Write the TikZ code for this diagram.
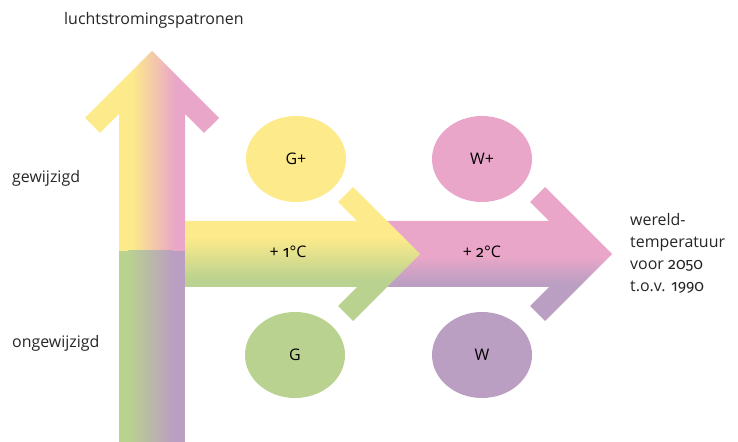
\documentclass[tikz,border=0pt]{standalone}
\usepackage{fontspec}
\setmainfont{Open Sans}
\newfontfamily\oudcijfer{Fira Sans}[Numbers=OldStyle]
\usetikzlibrary{shapes.geometric}
\definecolor{geel}{RGB}{253,234,139}
\definecolor{roze}{RGB}{234,166,200}
\definecolor{groen}{RGB}{185,210,143}
\definecolor{paars}{RGB}{186,159,194}
\begin{document}
\begin{tikzpicture}[x=1bp, y=-1bp,
    scenario/.style ={ellipse, minimum width=100bp, minimum height=86bp, inner sep=0pt, font=\fontsize{16}{20}\selectfont},
    label/.style ={anchor=base west, inner sep=0pt, text=black!85, font=\fontsize{16}{22}\selectfont}]
   \useasboundingbox (0,0) rectangle (738,442);
   % vertical arrow, upper part
   \begin{scope}
     \clip (119,251) -- (119,114) -- (100,133) -- (85,118) -- (152,51) -- (219,118)
       -- (204,133) -- (185,114) -- (185,251) -- cycle;
     \fill[geel] (80,45) rectangle (132,255);
     \shade[left color=geel, right color=roze] (132,45) rectangle (175,255);
     \fill[roze] (175,45) rectangle (225,255);
   \end{scope}
   % vertical arrow, lower part
   \fill[groen] (119,251) rectangle (128,442);
   \shade[left color=groen, right color=paars] (128,251) rectangle (173,442);
   \fill[paars] (173,251) rectangle (185,442);
   % second horizontal arrow
   \begin{scope}
     \clip (370,221) -- (549,221) -- (530,202) -- (545,187) -- (612,254) -- (545,321)
       -- (530,306) -- (549,287) -- (370,287) -- cycle;
     \fill[roze] (365,180) rectangle (620,256);
     \shade[top color=roze, bottom color=paars] (365,256) rectangle (620,284);
     \fill[paars] (365,284) rectangle (620,330);
   \end{scope}
   % first horizontal arrow
   \begin{scope}
     \clip (185,221) -- (357,221) -- (338,202) -- (353,187) -- (420,254) -- (353,321)
       -- (338,306) -- (357,287) -- (185,287) -- cycle;
     \fill[geel] (180,180) rectangle (425,237);
     \shade[top color=geel, bottom color=groen] (180,237) rectangle (425,280);
     \fill[groen] (180,280) rectangle (425,330);
   \end{scope}
   % scenarios
   \node[scenario, fill=geel] (Gplus) at (296,159) {G+};
   \node[scenario, fill=roze] (Wplus) at (482,159) {W+};
   \node[scenario, fill=groen] (G) at (295,355) {G};
   \node[scenario, fill=paars] (W) at (482,355) {W};
   \node[font=\fontsize{16}{20}\selectfont] (een) at (288,252) {+ {\oudcijfer 1}°C};
   \node[font=\fontsize{16}{20}\selectfont] (twee) at (482,252) {+ {\oudcijfer 2}°C};
   % axis labels
   \node[label] (lucht) at (64,25) {luchtstromingspatronen};
   \node[label] (gew) at (12,183) {gewijzigd};
   \node[label] (ongew) at (12,348) {ongewijzigd};
   \node[label, anchor=north west, align=left] (temp) at (630,213)
     {wereld-\\temperatuur\\voor {\oudcijfer 2050}\\t.o.v. {\oudcijfer 1990}};
\end{tikzpicture}
\end{document}
